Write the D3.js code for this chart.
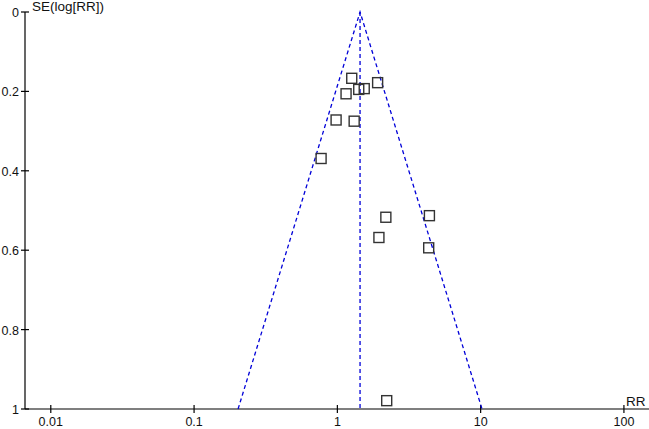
<!DOCTYPE html>
<html lang="en">
<head>
    <meta charset="UTF-8">
    <title>Funnel plot</title>
    <script src="https://cdn.jsdelivr.net/npm/d3@7"></script>
    <style>
        body { margin: 0; background: #fff; }
        text { font-family: "Liberation Sans", Arial, sans-serif; font-size: 12.5px; fill: #111; }
        .title { font-size: 13.5px; }
        .axis line, .axis path { stroke: #000; stroke-width: 1.2px; }
        .limit { stroke: #0000d8; stroke-width: 1.3px; stroke-dasharray: 4,3; fill: none; }
        .study { fill: none; stroke: #333; stroke-width: 1.4px; }
    </style>
</head>
<body>
    <script>
        // study estimates
        let rr = [1.26, 1.91, 1.41, 1.54, 1.15, 0.98, 1.31, 0.77, 2.18, 4.39, 1.95, 4.34, 2.21];
        let se = [0.167, 0.178, 0.195, 0.193, 0.206, 0.272, 0.275, 0.369, 0.517, 0.513, 0.568, 0.594, 0.979];
        let pooled = 1.44;
        let xTicks = [0.01, 0.1, 1, 10, 100];
        let yTicks = [0, 0.2, 0.4, 0.6, 0.8, 1];

        let width = 649, height = 429;
        let svg = d3.select('body').append('svg')
            .attr('width', width)
            .attr('height', height);

        // log scale, 1 decade ~ 143px
        let x = d3.scaleLog()
            .domain([Math.pow(10, -2.18), Math.pow(10, 2.175)])
            .range([25, 649]);
        let y = d3.scaleLinear()
            .domain([0, 1])
            .range([12, 409]);

        // y axis
        let yAxis = svg.append('g').attr('class', 'axis');
        yAxis.append('line')
            .attr('x1', x.range()[0]).attr('x2', x.range()[0])
            .attr('y1', y(0)).attr('y2', y(1));
        yAxis.selectAll('.tk').data(yTicks).enter().append('line')
            .attr('x1', x.range()[0] - 4).attr('x2', x.range()[0] + 4)
            .attr('y1', d => y(d)).attr('y2', d => y(d));
        yAxis.selectAll('text').data(yTicks).enter().append('text')
            .attr('x', 19)
            .attr('y', d => y(d))
            .attr('dy', '0.4em')
            .attr('text-anchor', 'end')
            .text(d => d);

        // x axis
        let xAxis = svg.append('g').attr('class', 'axis');
        xAxis.append('line')
            .attr('x1', x.range()[0]).attr('x2', x.range()[1])
            .attr('y1', y(1)).attr('y2', y(1));
        xAxis.selectAll('.tk').data(xTicks).enter().append('line')
            .attr('x1', d => x(d)).attr('x2', d => x(d))
            .attr('y1', y(1) - 4).attr('y2', y(1) + 4);
        xAxis.selectAll('text').data(xTicks).enter().append('text')
            .attr('x', d => x(d))
            .attr('y', 426)
            .attr('text-anchor', 'middle')
            .text(d => d);

        // axis titles
        svg.append('text').attr('class', 'title').attr('x', 32).attr('y', 11).text('SE(log[RR])');
        svg.append('text').attr('class', 'title').attr('x', 626).attr('y', 406).text('RR');

        // 95% limits around the pooled estimate
        let lp = Math.log(pooled);
        let funnel = [
            [Math.exp(lp - 1.96), 1],
            [pooled, 0],
            [Math.exp(lp + 1.96), 1]
        ];
        svg.append('path')
            .attr('class', 'limit')
            .attr('d', d3.line().x(d => x(d[0])).y(d => y(d[1]))(funnel));
        svg.append('line')
            .attr('class', 'limit')
            .attr('x1', x(pooled)).attr('x2', x(pooled))
            .attr('y1', y(0)).attr('y2', y(1));

        // studies
        svg.selectAll('.study').data(rr).enter().append('rect')
            .attr('class', 'study')
            .attr('x', d => x(d) - 5)
            .attr('y', (d, i) => y(se[i]) - 5)
            .attr('width', 10)
            .attr('height', 10);
    </script>
</body>
</html>
